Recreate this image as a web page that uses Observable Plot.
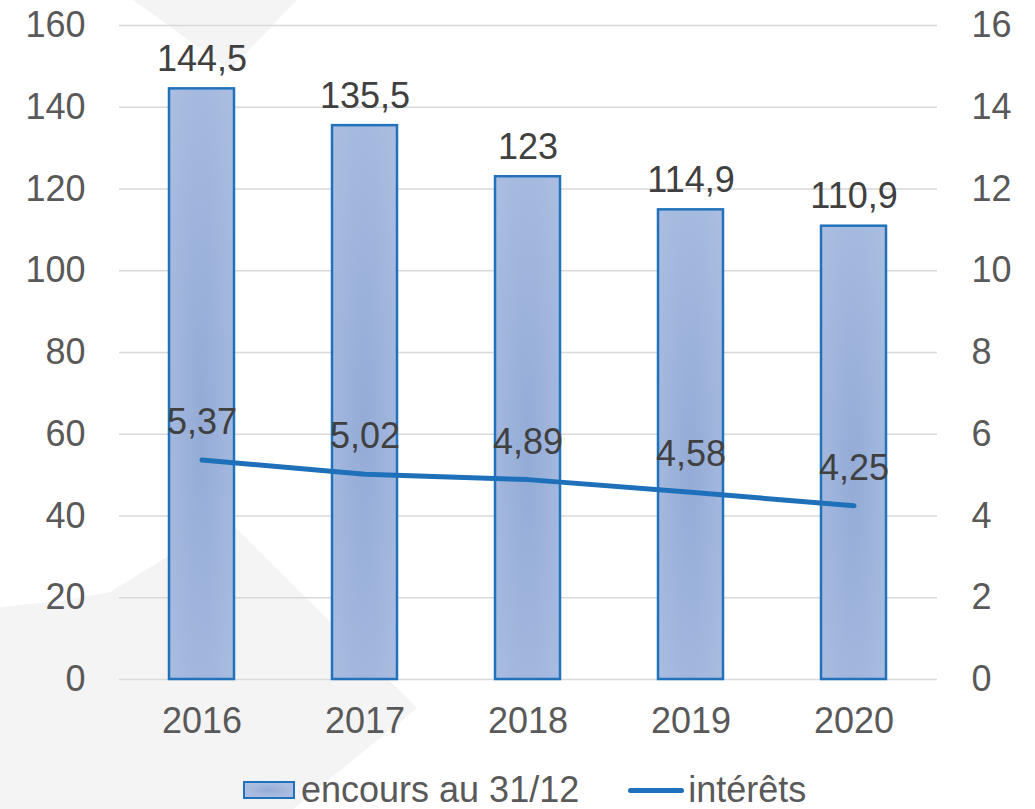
<!DOCTYPE html>
<html>
<head>
<meta charset="utf-8">
<script src="https://cdn.jsdelivr.net/npm/d3@7"></script>
<script src="https://cdn.jsdelivr.net/npm/@observablehq/plot@0.6"></script>
<style>
  html, body { margin: 0; padding: 0; background: #ffffff; }
  #wrap { position: relative; width: 1035px; height: 809px; overflow: hidden; font-family: "Liberation Sans", Arial, sans-serif; }
  #bg { position: absolute; left: 0; top: 0; }
  #chart { position: absolute; left: 0; top: 0; }
  #legend { position: absolute; left: 243px; top: 768px; height: 44px; display: flex; align-items: center; font-size: 36px; color: #595959; white-space: nowrap; }
  .sw-bar { width: 48px; height: 14px; border: 2.5px solid #2272bb; background: radial-gradient(ellipse at center, #94acd6 0%, #abbee1 70%); margin-right: 6px; }
  .sw-line { width: 56px; height: 5px; border-radius: 3px; background: #1f70ba; margin-left: 49px; margin-right: 4px; }
</style>
</head>
<body>
<div id="wrap">
  <svg id="bg" width="1035" height="809">
    <polygon points="133,0 297,0 230,70" fill="#f4f4f4"/>
    <polygon points="0,607 60,601 110,592 167,557 235,527 417,708 293,809 0,809" fill="#f4f4f4"/>
  </svg>
  <div id="chart"></div>
  <div id="legend">
    <div class="sw-bar"></div><span>encours au 31/12</span>
    <div class="sw-line"></div><span>intérêts</span>
  </div>
</div>
<script>
const years = ["2016", "2017", "2018", "2019", "2020"];
const encours = [144.5, 135.5, 123, 114.9, 110.9];
const interets = [5.37, 5.02, 4.89, 4.58, 4.25];
const leftTicks = [0, 20, 40, 60, 80, 100, 120, 140, 160];
const rightTicks = [0, 2, 4, 6, 8, 10, 12, 14, 16];
const ratio = 10; // left scale units per right scale unit

const data = years.map((y, i) => ({year: y, encours: encours[i], interets: interets[i]}));
const fmt = v => String(v).replace(".", ",");

const defs = () => {
  const d = d3.create("svg:defs");
  const g = d.append("radialGradient").attr("id", "barGrad").attr("cx", "0.5").attr("cy", "0.55").attr("r", "0.75");
  g.append("stop").attr("offset", "0%").attr("stop-color", "#93abd6");
  g.append("stop").attr("offset", "100%").attr("stop-color", "#acbfe2");
  return d.node();
};

const chart = Plot.plot({
  width: 1035,
  height: 765,
  marginLeft: 119,
  marginRight: 98,
  marginTop: 25,
  marginBottom: 86,
  style: {fontFamily: "Liberation Sans, Arial, sans-serif", fontSize: "36px", color: "#595959", background: "transparent", overflow: "visible"},
  x: {domain: years, paddingInner: 0.6, paddingOuter: 0.3, label: null},
  y: {domain: [0, 160], label: null},
  marks: [
    defs,
    Plot.gridY(leftTicks, {stroke: "#d9d9d9", strokeOpacity: 1, strokeWidth: 1.5}),
    Plot.barY(data, {x: "year", y: "encours", fill: "url(#barGrad)", stroke: "#2272bb", strokeWidth: 2.5}),
    Plot.line(data, {x: "year", y: d => d.interets * ratio, stroke: "#1f70ba", strokeWidth: 5, strokeLinecap: "round"}),
    Plot.text(data, {x: "year", y: "encours", text: d => fmt(d.encours), dy: -18, lineAnchor: "bottom", fill: "#404040", fontSize: 36}),
    Plot.text(data, {x: "year", y: d => d.interets * ratio, text: d => fmt(d.interets), dy: -26, lineAnchor: "bottom", fill: "#404040", fontSize: 36}),
    Plot.axisY(leftTicks, {anchor: "left", tickSize: 0, tickPadding: 34, label: null, fill: "#595959"}),
    Plot.axisY(leftTicks, {anchor: "right", tickSize: 0, tickPadding: 34, label: null, fill: "#595959", tickFormat: d => String(d / ratio)}),
    Plot.axisX({tickSize: 0, tickPadding: 28, label: null, fill: "#595959"})
  ]
});
document.getElementById("chart").appendChild(chart);
</script>
</body>
</html>
